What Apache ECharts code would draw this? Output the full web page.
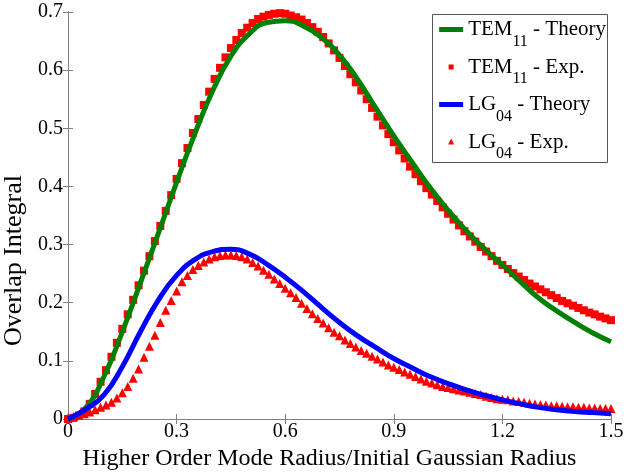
<!DOCTYPE html>
<html style="height: 100%">
<head>
<meta charset="utf-8">
</head>
<body style="height: 100%; margin: 0">
<div id="container" style="width: 624px; height: 472px"></div>
<script type="text/javascript" src="https://cdn.jsdelivr.net/npm/echarts@6/dist/echarts.min.js"></script>
<script type="text/javascript">
// curves
var xTheory = [0, 0.05, 0.1, 0.15, 0.2, 0.25, 0.3, 0.35, 0.4, 0.45, 0.5, 0.55, 0.6, 0.65, 0.7, 0.75,
	0.8, 0.85, 0.9, 0.95, 1.0, 1.05, 1.1, 1.15, 1.2, 1.25, 1.3, 1.35, 1.4, 1.45, 1.5];
var temTheory = [0, 0.02, 0.074, 0.15, 0.234, 0.32, 0.407, 0.49, 0.565, 0.624, 0.662, 0.682, 0.685, 0.676, 0.656, 0.626,
	0.584, 0.535, 0.487, 0.442, 0.398, 0.359, 0.324, 0.293, 0.265, 0.236, 0.208, 0.186, 0.166, 0.148, 0.133];
var lgTheory = [0, 0.017, 0.042, 0.09, 0.15, 0.205, 0.247, 0.274, 0.288, 0.292, 0.284, 0.266, 0.244, 0.219, 0.192, 0.166,
	0.143, 0.123, 0.104, 0.088, 0.073, 0.061, 0.05, 0.041, 0.033, 0.026, 0.02, 0.016, 0.013, 0.011, 0.009];

var xExp = [0, 0.015, 0.03, 0.045, 0.06, 0.075, 0.09, 0.105, 0.12, 0.135, 0.15, 0.165, 0.18, 0.195, 0.21, 0.225,
	0.24, 0.255, 0.27, 0.285, 0.3, 0.315, 0.33, 0.345, 0.36, 0.375, 0.39, 0.405, 0.42, 0.435, 0.45, 0.465,
	0.48, 0.495, 0.51, 0.525, 0.54, 0.555, 0.57, 0.585, 0.6, 0.615, 0.63, 0.645, 0.66, 0.675, 0.69, 0.705,
	0.72, 0.735, 0.75, 0.765, 0.78, 0.795, 0.81, 0.825, 0.84, 0.855, 0.87, 0.885, 0.9, 0.915, 0.93, 0.945,
	0.96, 0.975, 0.99, 1.005, 1.02, 1.035, 1.05, 1.065, 1.08, 1.095, 1.11, 1.125, 1.14, 1.155, 1.17, 1.185,
	1.2, 1.215, 1.23, 1.245, 1.26, 1.275, 1.29, 1.305, 1.32, 1.335, 1.35, 1.365, 1.38, 1.395, 1.41, 1.425,
	1.44, 1.455, 1.47, 1.485, 1.5];
var temExp = [0, 0.002, 0.006, 0.013, 0.026, 0.043, 0.064, 0.084, 0.107, 0.131, 0.155, 0.18, 0.205, 0.23, 0.255, 0.28,
	0.306, 0.332, 0.358, 0.385, 0.413, 0.44, 0.466, 0.492, 0.516, 0.54, 0.563, 0.585, 0.604, 0.622, 0.638, 0.652,
	0.664, 0.673, 0.681, 0.688, 0.692, 0.695, 0.697, 0.698, 0.697, 0.694, 0.691, 0.687, 0.681, 0.674, 0.666, 0.657,
	0.646, 0.634, 0.621, 0.607, 0.593, 0.579, 0.565, 0.55, 0.535, 0.52, 0.505, 0.49, 0.476, 0.462, 0.448, 0.434,
	0.421, 0.409, 0.397, 0.386, 0.375, 0.364, 0.353, 0.343, 0.333, 0.323, 0.314, 0.305, 0.296, 0.288, 0.28, 0.272,
	0.265, 0.258, 0.251, 0.245, 0.239, 0.233, 0.228, 0.223, 0.218, 0.213, 0.208, 0.203, 0.199, 0.195, 0.191, 0.187,
	0.183, 0.18, 0.176, 0.173, 0.17];
var lgExp = [0.002, 0.004, 0.006, 0.009, 0.012, 0.016, 0.02, 0.024, 0.029, 0.036, 0.045, 0.056, 0.07, 0.086, 0.106, 0.125,
	0.144, 0.166, 0.187, 0.204, 0.22, 0.236, 0.247, 0.257, 0.264, 0.27, 0.275, 0.279, 0.281, 0.282, 0.282, 0.281,
	0.279, 0.275, 0.269, 0.263, 0.256, 0.249, 0.241, 0.233, 0.225, 0.217, 0.209, 0.199, 0.19, 0.181, 0.173, 0.165,
	0.157, 0.149, 0.143, 0.136, 0.13, 0.124, 0.118, 0.113, 0.108, 0.103, 0.098, 0.093, 0.089, 0.085, 0.081, 0.077,
	0.073, 0.069, 0.065, 0.062, 0.059, 0.056, 0.054, 0.052, 0.05, 0.048, 0.046, 0.044, 0.042, 0.039, 0.037, 0.035,
	0.034, 0.033, 0.031, 0.03, 0.029, 0.027, 0.026, 0.025, 0.024, 0.023, 0.023, 0.022, 0.021, 0.021, 0.02, 0.02,
	0.019, 0.019, 0.018, 0.018, 0.018];

var seriesNames = ['TEM11 - Theory', 'TEM11 - Exp.', 'LG04 - Theory', 'LG04 - Exp.'];

function pairs(xs, ys) {
	var out = [];
	for (var i = 0; i < xs.length; i++) out.push([xs[i], ys[i]]);
	return out;
}

var font = '"Liberation Serif", "Times New Roman", serif';
var axisGray = '#808080';

var myChart = echarts.init(document.getElementById('container'));
var option = {
	animation: false,
	grid: { left: 68, right: 13, top: 12, bottom: 53, outerBoundsMode: 'none' },
	// legend frame drawn by hand, the legend's own box came out too wide with the subscripts
	graphic: [{
		type: 'rect', z: 3, silent: true,
		shape: { x: 432.5, y: 14.5, width: 175, height: 148 },
		style: { fill: '#fff', stroke: '#555', lineWidth: 1 }
	}],
	legend: {
		orient: 'vertical',
		right: 13,
		top: 14,
		padding: [5, 5, 2, 3],
		itemGap: 7,
		itemWidth: 24,
		itemHeight: 12,
		borderWidth: 0,
		selectedMode: false,
		formatter: function (name) {
			return name.replace(/^(TEM|LG)(\d\d)(.*)$/, '{m|$1}{s|$2}{m|$3}');
		},
		textStyle: {
			color: '#000',
			fontFamily: font,
			fontSize: 21,
			rich: {
				m: { fontFamily: font, fontSize: 21, color: '#000' },
				s: { fontFamily: font, fontSize: 16, color: '#000', padding: [24, 0, 0, 0] }
			}
		},
		data: [
			{ name: seriesNames[0], icon: 'path://M0,0M0,3.5h24v5h-24zM24,12', itemStyle: { color: '#008000' } },
			{ name: seriesNames[1], icon: 'path://M0,0M9.5,3.5h5v5h-5zM24,12', itemStyle: { color: '#ff0000' } },
			{ name: seriesNames[2], icon: 'path://M0,0M0,3.5h24v5h-24zM24,12', itemStyle: { color: '#0000ff' } },
			{ name: seriesNames[3], icon: 'path://M0,0M9,8.5l3,-6l3,6zM24,12', itemStyle: { color: '#ff0000' } }
		]
	},
	xAxis: [{
		type: 'value', min: 0, max: 1.5, interval: 0.3,
		name: 'Higher Order Mode Radius/Initial Gaussian Radius',
		nameLocation: 'middle', nameGap: 22,
		nameTextStyle: { fontFamily: font, fontSize: 24, color: '#000', padding: [0, 20, 0, 0] },
		axisLine: { lineStyle: { color: axisGray } },
		axisTick: { inside: true, length: 5, lineStyle: { color: axisGray } },
		axisLabel: { fontFamily: font, fontSize: 20, color: '#000', margin: 3 },
		splitLine: { show: false }
	}, {
		type: 'value', min: 0, max: 1.5, interval: 0.3, position: 'top',
		axisLine: { lineStyle: { color: axisGray } },
		axisTick: { inside: true, length: 5, lineStyle: { color: axisGray } },
		axisLabel: { show: false },
		splitLine: { show: false }
	}],
	yAxis: [{
		type: 'value', min: 0, max: 0.7, interval: 0.1,
		name: 'Overlap Integral',
		nameLocation: 'middle', nameGap: 30,
		nameTextStyle: { fontFamily: font, fontSize: 26, color: '#000', padding: [0, 90, 0, 0] },
		axisLine: { show: true, lineStyle: { color: axisGray } },
		axisTick: { show: true, inside: true, length: 5, lineStyle: { color: axisGray } },
		axisLabel: { fontFamily: font, fontSize: 20, color: '#000', margin: 5 },
		splitLine: { show: false }
	}, {
		type: 'value', min: 0, max: 0.7, interval: 0.1, position: 'right',
		axisLine: { show: true, lineStyle: { color: axisGray } },
		axisTick: { show: true, inside: true, length: 5, lineStyle: { color: axisGray } },
		axisLabel: { show: false },
		splitLine: { show: false }
	}],
	series: [
		{
			name: seriesNames[0], type: 'line', smooth: true, symbol: 'none',
			color: '#008000', itemStyle: { color: '#008000' },
			lineStyle: { color: '#008000', width: 5 },
			data: pairs(xTheory, temTheory)
		},
		{
			name: seriesNames[1], type: 'scatter', symbol: 'rect', symbolSize: 8,
			itemStyle: { color: '#ff0000', opacity: 1 },
			data: pairs(xExp, temExp)
		},
		{
			name: seriesNames[2], type: 'line', smooth: true, symbol: 'none',
			color: '#0000ff', itemStyle: { color: '#0000ff' },
			lineStyle: { color: '#0000ff', width: 5 },
			data: pairs(xTheory, lgTheory)
		},
		{
			name: seriesNames[3], type: 'scatter', symbol: 'triangle', symbolSize: 9,
			itemStyle: { color: '#ff0000', opacity: 1 },
			data: pairs(xExp, lgExp)
		}
	]
};
myChart.setOption(option);
</script>
</body>
</html>
